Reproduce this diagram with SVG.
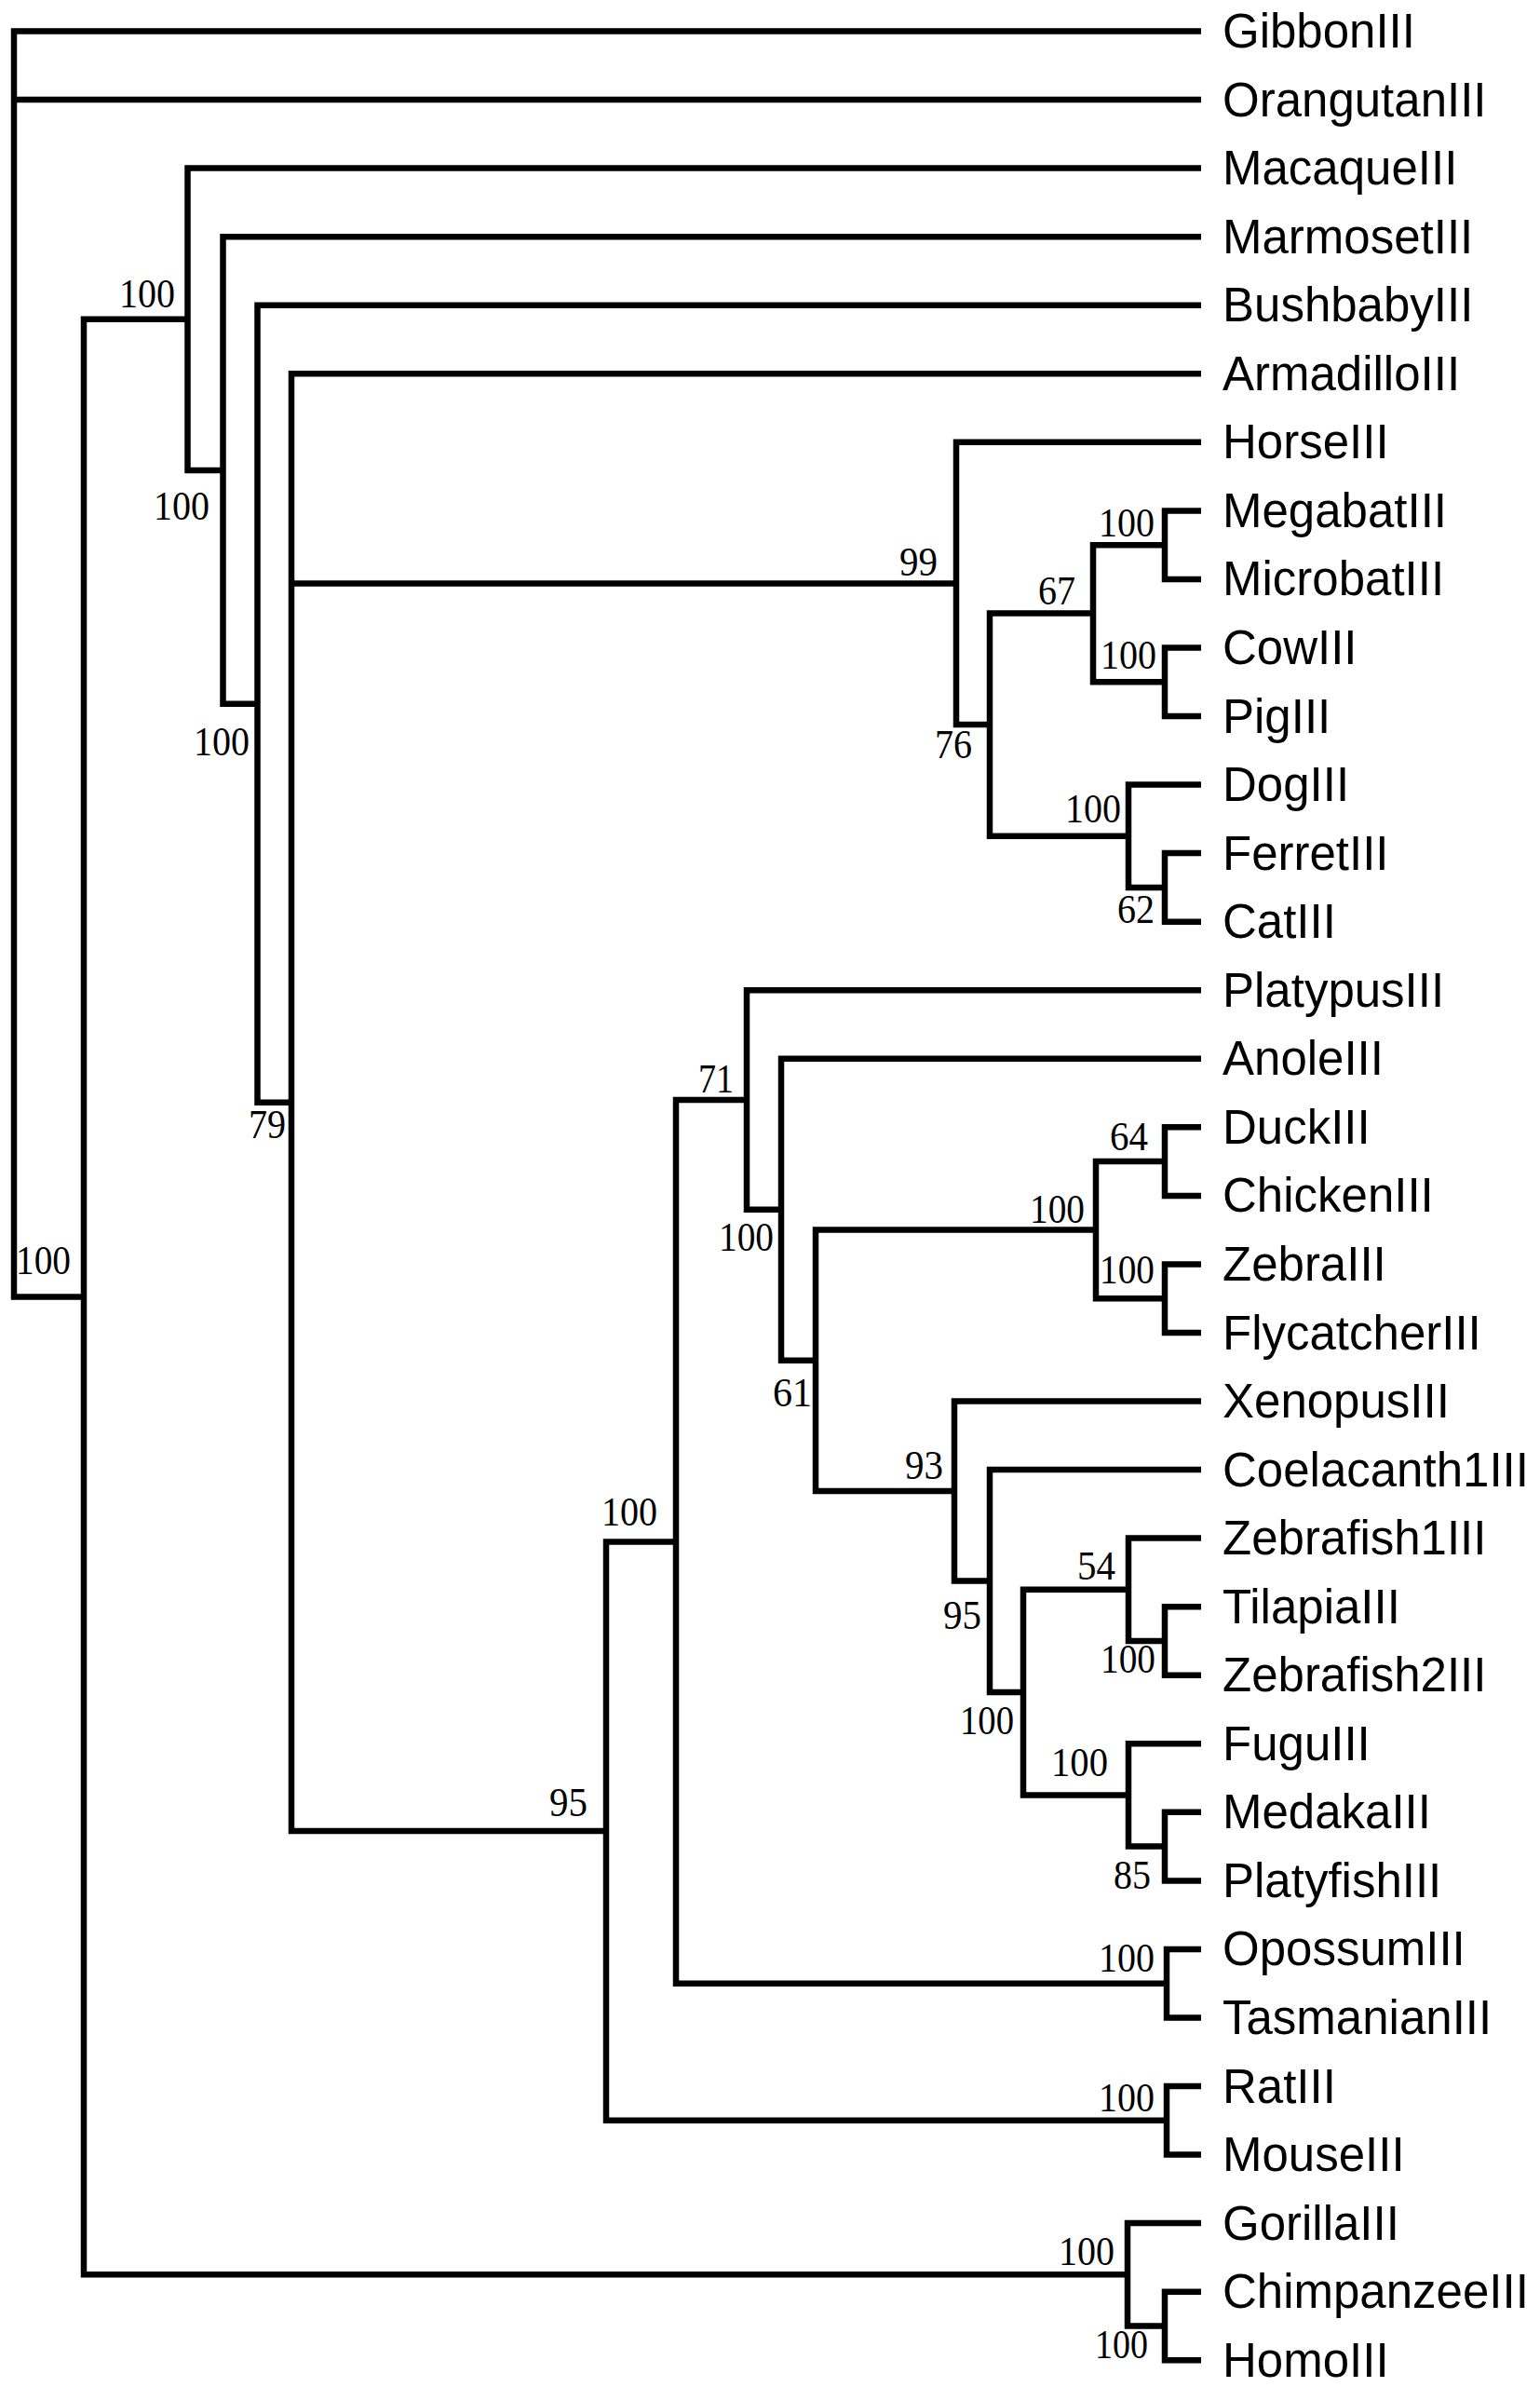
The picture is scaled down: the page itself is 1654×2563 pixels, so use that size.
<svg xmlns="http://www.w3.org/2000/svg" width="1654" height="2563" viewBox="0 0 1654 2563">
<style>
.br{fill:none;stroke:#000;stroke-width:6.5;stroke-linejoin:miter;stroke-linecap:butt}
.lf{font-family:'Liberation Sans',Arial,sans-serif;font-size:51px;fill:#000}
.bs{font-family:'Liberation Serif','Times New Roman',serif;font-size:44px;fill:#000}
</style>
<rect width="1654" height="2563" fill="#fff"/>
<g id="connectors">
<path class="br" d="M1290 33.5 H15 V1392.5 H90"/>
<path class="br" d="M15 107 H1290"/>
<path class="br" d="M201.5 342.8 H90 V2442.3 H1211"/>
<path class="br" d="M1290 180.6 H201.5 V505 H239.5"/>
<path class="br" d="M1290 254.2 H239.5 V755.7 H276.5"/>
<path class="br" d="M1290 327.7 H276.5 V1183.7 H313"/>
<path class="br" d="M1290 401.3 H313 V1966.1 H651"/>
<path class="br" d="M313 626.4 H1027"/>
<path class="br" d="M1290 474.8 H1027 V778 H1063"/>
<path class="br" d="M1174 658.5 H1063 V897.7 H1212"/>
<path class="br" d="M1251 585.2 H1174 V732.3 H1251"/>
<path class="br" d="M1290 548.4 H1251 V621.9 H1290"/>
<path class="br" d="M1290 695.5 H1251 V769 H1290"/>
<path class="br" d="M1290 842.6 H1212 V952.9 H1251"/>
<path class="br" d="M1290 916.1 H1251 V989.7 H1290"/>
<path class="br" d="M726 1655.4 H651 V2276.8 H1253"/>
<path class="br" d="M802 1181 H726 V2129.7 H1253"/>
<path class="br" d="M1290 1063.2 H802 V1298.8 H839"/>
<path class="br" d="M1290 1136.8 H839 V1460.8 H876"/>
<path class="br" d="M1177 1320.6 H876 V1601 H1025"/>
<path class="br" d="M1251 1247.1 H1177 V1394.2 H1251"/>
<path class="br" d="M1290 1210.3 H1251 V1283.9 H1290"/>
<path class="br" d="M1290 1357.4 H1251 V1431 H1290"/>
<path class="br" d="M1290 1504.5 H1025 V1697.6 H1063"/>
<path class="br" d="M1290 1578 H1063 V1817.1 H1099"/>
<path class="br" d="M1212 1706.8 H1099 V1927.4 H1212"/>
<path class="br" d="M1290 1651.6 H1212 V1762 H1251"/>
<path class="br" d="M1290 1725.2 H1251 V1798.7 H1290"/>
<path class="br" d="M1290 1872.3 H1212 V1982.6 H1251"/>
<path class="br" d="M1290 1945.8 H1251 V2019.4 H1290"/>
<path class="br" d="M1290 2092.9 H1253 V2166.5 H1290"/>
<path class="br" d="M1290 2240 H1253 V2313.6 H1290"/>
<path class="br" d="M1290 2387.1 H1211 V2497.5 H1251"/>
<path class="br" d="M1290 2460.7 H1251 V2534.2 H1290"/>
</g>
<g id="leaves">
<g id="Gibbon"><text class="lf" x="1313" y="51">GibbonIII</text></g>
<g id="Orangutan"><text class="lf" x="1313" y="124.5">OrangutanIII</text></g>
<g id="Macaque"><text class="lf" x="1313" y="198">MacaqueIII</text></g>
<g id="Marmoset"><text class="lf" x="1313" y="271.7">MarmosetIII</text></g>
<g id="Bushbaby"><text class="lf" x="1313" y="345.2">BushbabyIII</text></g>
<g id="Armadillo"><text class="lf" x="1313" y="418.8">ArmadilloIII</text></g>
<g id="Horse"><text class="lf" x="1313" y="492.3">HorseIII</text></g>
<g id="Megabat"><text class="lf" x="1313" y="565.9">MegabatIII</text></g>
<g id="Microbat"><text class="lf" x="1313" y="639.4">MicrobatIII</text></g>
<g id="Cow"><text class="lf" x="1313" y="713">CowIII</text></g>
<g id="Pig"><text class="lf" x="1313" y="786.5">PigIII</text></g>
<g id="Dog"><text class="lf" x="1313" y="860.1">DogIII</text></g>
<g id="Ferret"><text class="lf" x="1313" y="933.6">FerretIII</text></g>
<g id="Cat"><text class="lf" x="1313" y="1007.2">CatIII</text></g>
<g id="Platypus"><text class="lf" x="1313" y="1080.7">PlatypusIII</text></g>
<g id="Anole"><text class="lf" x="1313" y="1154.3">AnoleIII</text></g>
<g id="Duck"><text class="lf" x="1313" y="1227.8">DuckIII</text></g>
<g id="Chicken"><text class="lf" x="1313" y="1301.4">ChickenIII</text></g>
<g id="Zebra"><text class="lf" x="1313" y="1374.9">ZebraIII</text></g>
<g id="Flycatcher"><text class="lf" x="1313" y="1448.5">FlycatcherIII</text></g>
<g id="Xenopus"><text class="lf" x="1313" y="1522">XenopusIII</text></g>
<g id="Coelacanth1"><text class="lf" x="1313" y="1595.5">Coelacanth1III</text></g>
<g id="Zebrafish1"><text class="lf" x="1313" y="1669.1">Zebrafish1III</text></g>
<g id="Tilapia"><text class="lf" x="1313" y="1742.7">TilapiaIII</text></g>
<g id="Zebrafish2"><text class="lf" x="1313" y="1816.2">Zebrafish2III</text></g>
<g id="Fugu"><text class="lf" x="1313" y="1889.8">FuguIII</text></g>
<g id="Medaka"><text class="lf" x="1313" y="1963.3">MedakaIII</text></g>
<g id="Platyfish"><text class="lf" x="1313" y="2036.9">PlatyfishIII</text></g>
<g id="Opossum"><text class="lf" x="1313" y="2110.4">OpossumIII</text></g>
<g id="Tasmanian"><text class="lf" x="1313" y="2184">TasmanianIII</text></g>
<g id="Rat"><text class="lf" x="1313" y="2257.5">RatIII</text></g>
<g id="Mouse"><text class="lf" x="1313" y="2331.1">MouseIII</text></g>
<g id="Gorilla"><text class="lf" x="1313" y="2404.6">GorillaIII</text></g>
<g id="Chimpanzee"><text class="lf" x="1313" y="2478.2">ChimpanzeeIII</text></g>
<g id="Homo"><text class="lf" x="1313" y="2551.7">HomoIII</text></g>
</g>
<g id="bootstrap">
<g id="n_root"><text class="bs" x="17" y="1368" textLength="59" lengthAdjust="spacingAndGlyphs">100</text></g>
<g id="n_B"><text class="bs" x="128" y="330" textLength="60" lengthAdjust="spacingAndGlyphs">100</text></g>
<g id="n_C"><text class="bs" x="165" y="558" textLength="60" lengthAdjust="spacingAndGlyphs">100</text></g>
<g id="n_D"><text class="bs" x="208" y="811" textLength="60" lengthAdjust="spacingAndGlyphs">100</text></g>
<g id="n_E"><text class="bs" x="267" y="1222" textLength="40" lengthAdjust="spacingAndGlyphs">79</text></g>
<g id="n_F"><text class="bs" x="966" y="618" textLength="41" lengthAdjust="spacingAndGlyphs">99</text></g>
<g id="n_G"><text class="bs" x="1004" y="814" textLength="40" lengthAdjust="spacingAndGlyphs">76</text></g>
<g id="n_H"><text class="bs" x="1115" y="649" textLength="40" lengthAdjust="spacingAndGlyphs">67</text></g>
<g id="n_I"><text class="bs" x="1180" y="576" textLength="60" lengthAdjust="spacingAndGlyphs">100</text></g>
<g id="n_J"><text class="bs" x="1182" y="718" textLength="60" lengthAdjust="spacingAndGlyphs">100</text></g>
<g id="n_K"><text class="bs" x="1144" y="883" textLength="60" lengthAdjust="spacingAndGlyphs">100</text></g>
<g id="n_L"><text class="bs" x="1200" y="991" textLength="40" lengthAdjust="spacingAndGlyphs">62</text></g>
<g id="n_M"><text class="bs" x="590" y="1950" textLength="41" lengthAdjust="spacingAndGlyphs">95</text></g>
<g id="n_N"><text class="bs" x="646" y="1638" textLength="60" lengthAdjust="spacingAndGlyphs">100</text></g>
<g id="n_O"><text class="bs" x="750" y="1173" textLength="38" lengthAdjust="spacingAndGlyphs">71</text></g>
<g id="n_P"><text class="bs" x="772" y="1343" textLength="59" lengthAdjust="spacingAndGlyphs">100</text></g>
<g id="n_Q"><text class="bs" x="830" y="1510" textLength="42" lengthAdjust="spacingAndGlyphs">61</text></g>
<g id="n_R"><text class="bs" x="1106" y="1313" textLength="59" lengthAdjust="spacingAndGlyphs">100</text></g>
<g id="n_S"><text class="bs" x="1192" y="1235" textLength="41" lengthAdjust="spacingAndGlyphs">64</text></g>
<g id="n_T"><text class="bs" x="1181" y="1378" textLength="59" lengthAdjust="spacingAndGlyphs">100</text></g>
<g id="n_U"><text class="bs" x="972" y="1588" textLength="41" lengthAdjust="spacingAndGlyphs">93</text></g>
<g id="n_V"><text class="bs" x="1013" y="1749" textLength="41" lengthAdjust="spacingAndGlyphs">95</text></g>
<g id="n_W"><text class="bs" x="1031" y="1862" textLength="58" lengthAdjust="spacingAndGlyphs">100</text></g>
<g id="n_X"><text class="bs" x="1157" y="1696" textLength="41" lengthAdjust="spacingAndGlyphs">54</text></g>
<g id="n_Z"><text class="bs" x="1182" y="1796" textLength="59" lengthAdjust="spacingAndGlyphs">100</text></g>
<g id="n_Y"><text class="bs" x="1129" y="1907" textLength="61" lengthAdjust="spacingAndGlyphs">100</text></g>
<g id="n_AA"><text class="bs" x="1196" y="2028" textLength="40" lengthAdjust="spacingAndGlyphs">85</text></g>
<g id="n_BB"><text class="bs" x="1180" y="2117" textLength="60" lengthAdjust="spacingAndGlyphs">100</text></g>
<g id="n_CC"><text class="bs" x="1180" y="2267" textLength="60" lengthAdjust="spacingAndGlyphs">100</text></g>
<g id="n_DD"><text class="bs" x="1137" y="2432" textLength="60" lengthAdjust="spacingAndGlyphs">100</text></g>
<g id="n_EE"><text class="bs" x="1176" y="2532" textLength="57" lengthAdjust="spacingAndGlyphs">100</text></g>
</g>
</svg>
